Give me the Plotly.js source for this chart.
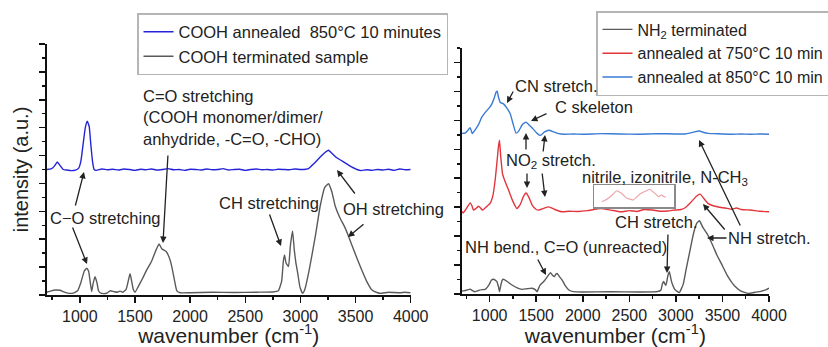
<!DOCTYPE html>
<html>
<head>
<meta charset="utf-8">
<script src="https://cdn.plot.ly/plotly-3.0.1.min.js"></script>
<style>html,body{margin:0;padding:0;background:#fff;}#chart{width:828px;height:347px;}</style>
</head>
<body>
<div id="chart"></div>
<script>
// ---------- DATA ----------
// Left panel: COOH terminated sample (gray)
const coohX = [700,740,780,821,860,900,941,980,1010,1040,1063,1080,1095,1108,1120,1138,1155,1170,1184,1220,1250,1275,1310,1340,1365,1390,1420,1445,1456,1470,1485,1501,1530,1570,1607,1650,1690,1719,1745,1783,1810,1834,1860,1880,1910,2000,2200,2400,2600,2750,2800,2830,2845,2856,2870,2892,2910,2929,2945,2959,2975,2995,3019,3040,3080,3135,3180,3220,3255,3285,3316,3360,3400,3437,3490,3543,3600,3649,3700,3725,3800,3900,3950,4000];
const coohY = [0.10,0.15,0.18,0.17,0.10,0.06,0.07,0.15,0.45,0.85,0.96,0.85,0.45,0.12,0.40,0.66,0.45,0.15,0.08,0.05,0.08,0.15,0.12,0.10,0.14,0.10,0.20,0.60,0.76,0.50,0.20,0.10,0.30,0.60,0.90,1.20,1.60,1.83,1.65,1.56,1.35,1.02,0.50,0.15,0.08,0.08,0.10,0.09,0.10,0.11,0.15,0.50,1.20,1.44,1.15,1.02,1.80,2.30,1.60,1.16,0.80,0.30,0.06,0.20,0.90,2.10,3.20,3.85,3.99,3.70,3.18,2.75,2.45,2.10,1.55,1.02,0.50,0.18,0.08,0.06,0.10,0.08,0.10,0.08];

// Left panel: COOH annealed 850 °C 10 minutes (blue)
const cooh850X = [700,740,770,796,820,850,880,927,960,990,1010,1030,1050,1068,1085,1100,1115,1130,1150,1200,1250,1300,1350,1400,1450,1500,1550,1600,1650,1700,1750,1800,1850,1900,1950,2000,2050,2100,2150,2200,2250,2300,2350,2400,2450,2500,2550,2600,2650,2700,2750,2800,2850,2900,2950,3000,3050,3074,3120,3180,3220,3255,3280,3320,3380,3440,3513,3550,3600,3650,3700,3750,3800,3850,3900,3950,4000];
const cooh850Y = [4.50,4.52,4.62,4.77,4.65,4.50,4.48,4.46,4.48,4.55,4.80,5.40,6.00,6.23,6.05,5.40,4.80,4.50,4.47,4.52,4.49,4.51,4.48,4.52,4.50,4.47,4.51,4.49,4.52,4.48,4.50,4.53,4.49,4.50,4.47,4.51,4.50,4.48,4.52,4.49,4.50,4.53,4.48,4.50,4.51,4.47,4.50,4.52,4.49,4.50,4.48,4.51,4.50,4.49,4.52,4.50,4.51,4.53,4.70,4.95,5.10,5.19,5.10,4.95,4.80,4.65,4.50,4.46,4.49,4.47,4.50,4.48,4.51,4.47,4.52,4.49,4.50];

// Right panel: NH2 terminated (gray)
const nh2X = [700,717,750,790,815,844,880,920,951,990,1020,1041,1060,1078,1095,1106,1120,1135,1149,1180,1210,1240,1290,1347,1400,1455,1490,1509,1540,1581,1620,1653,1675,1696,1710,1725,1750,1779,1810,1851,1900,2000,2300,2600,2800,2840,2855,2869,2885,2894,2915,2930,2945,2959,2990,3037,3080,3110,3145,3190,3225,3253,3290,3344,3400,3440,3487,3550,3600,3631,3700,3775,3850,3920,3970,4000];
const nh2Y = [0.10,0.11,0.13,0.17,0.12,0.08,0.12,0.15,0.16,0.30,0.48,0.51,0.48,0.43,0.25,0.08,0.30,0.48,0.51,0.45,0.38,0.31,0.22,0.16,0.18,0.20,0.15,0.08,0.30,0.43,0.60,0.74,0.65,0.60,0.68,0.71,0.60,0.48,0.30,0.14,0.08,0.07,0.08,0.07,0.08,0.14,0.35,0.43,0.33,0.31,0.65,0.77,0.55,0.37,0.15,0.05,0.35,0.85,1.40,2.10,2.45,2.53,2.30,2.03,1.65,1.35,1.06,0.65,0.40,0.28,0.10,0.02,0.06,0.10,0.15,0.20];

// Right panel: annealed at 750 °C 10 min (red)
const nh750X = [700,717,750,790,810,826,850,879,900,923,960,1005,1035,1059,1080,1095,1106,1118,1138,1170,1203,1250,1293,1330,1360,1391,1420,1460,1500,1527,1580,1635,1700,1779,1850,1950,2050,2192,2300,2408,2500,2580,2660,2750,2830,2912,2990,3056,3100,3164,3220,3261,3300,3344,3400,3487,3550,3600,3650,3703,3800,3900,4000];
const nh750Y = [2.85,2.80,2.95,3.15,3.05,2.90,2.95,3.03,2.98,2.90,3.00,3.13,3.40,3.93,4.60,5.10,5.31,4.80,4.16,3.85,3.59,3.20,2.95,3.10,3.35,3.49,3.35,3.05,2.92,2.90,2.96,3.01,2.92,2.84,2.86,2.85,2.88,2.95,2.90,2.84,2.88,2.85,2.92,2.90,2.86,2.87,2.90,2.92,2.98,3.18,3.38,3.45,3.30,3.13,3.05,2.99,2.96,2.93,2.97,2.92,2.90,2.86,2.84];

// Right panel: annealed at 850 °C 10 min (blue)
const nh850X = [700,736,765,790,805,814,850,880,916,960,1000,1024,1050,1070,1081,1095,1115,1149,1180,1221,1250,1283,1310,1350,1391,1430,1473,1510,1545,1590,1635,1690,1743,1800,1900,2000,2200,2400,2600,2800,3000,3100,3150,3200,3253,3300,3350,3400,3500,3600,3700,3800,3900,4000];
const nh850Y = [5.55,5.56,5.65,5.75,5.62,5.54,5.70,5.85,6.11,6.30,6.45,6.57,6.78,6.98,7.01,6.80,6.62,6.57,6.45,6.23,5.90,5.56,5.62,5.85,5.94,5.82,5.68,5.55,5.48,5.60,5.66,5.60,5.54,5.52,5.53,5.52,5.54,5.53,5.52,5.54,5.53,5.53,5.56,5.60,5.63,5.58,5.55,5.54,5.53,5.52,5.53,5.52,5.53,5.52];

// Inset (magnified red trace, nitrile / izonitrile / N-CH3 region)
const insetX = [2187,2230,2261,2310,2355,2385,2411,2440,2468,2505,2542,2580,2617,2670,2730,2760,2786,2824,2861,2885,2910];
const insetY = [5.3,7.0,8.7,12.5,16.3,15.0,13.7,11.0,8.7,7.8,7.0,10.0,13.0,15.5,17.7,15.5,13.7,10.3,12.0,10.5,9.7];

const xTickVals = [1000,1500,2000,2500,3000,3500,4000];
const seriesNames = {
  cooh850: 'COOH annealed&nbsp; 850°C 10 minutes',
  cooh: 'COOH terminated sample',
  nh2: 'NH<sub>2</sub> terminated',
  nh750: 'annealed at 750°C 10 min',
  nh850: 'annealed at 850°C 10 min'
};

// ---------- STYLE ----------
const W = 828, H = 347;
const FONT = 'Liberation Sans, Arial, sans-serif';
const TXT = '#222';
const line = (c, w) => ({color: c, width: w || 1.4, shape: 'spline', smoothing: 0.4});

const traces = [
  {x: cooh850X, y: cooh850Y, name: seriesNames.cooh850, xaxis: 'x', yaxis: 'y', legend: 'legend', mode: 'lines', line: line('#2424d8', 1.4)},
  {x: coohX, y: coohY, name: seriesNames.cooh, xaxis: 'x', yaxis: 'y', legend: 'legend', mode: 'lines', line: line('#5a5a5a', 1.4)},
  {x: nh2X, y: nh2Y, name: seriesNames.nh2, xaxis: 'x2', yaxis: 'y2', legend: 'legend2', mode: 'lines', line: line('#5a5a5a', 1.4)},
  {x: nh750X, y: nh750Y, name: seriesNames.nh750, xaxis: 'x2', yaxis: 'y2', legend: 'legend2', mode: 'lines', line: line('#e2353c', 1.4)},
  {x: nh850X, y: nh850Y, name: seriesNames.nh850, xaxis: 'x2', yaxis: 'y2', legend: 'legend2', mode: 'lines', line: line('#3a7bd5', 1.4)},
  {x: insetX, y: insetY, name: 'inset', xaxis: 'x3', yaxis: 'y3', showlegend: false, mode: 'lines', line: line('rgba(226,110,120,0.65)', 1.1)}
];

const axBase = {
  showline: true, linecolor: '#111', linewidth: 1.5, ticks: 'outside', ticklen: 6, tickwidth: 1.5,
  tickcolor: '#111', showgrid: false, zeroline: false, mirror: false, fixedrange: true
};
const xAx = (dom, anchor) => Object.assign({}, axBase, {
  domain: dom, anchor: anchor, range: [700, 4000], tickvals: xTickVals,
  tickfont: {size: 16, color: TXT},
  minor: {dtick: 250, tick0: 0, ticklen: 3, tickwidth: 1.5, tickcolor: '#111', showgrid: false},
  title: {text: 'wavenumber (cm<sup>-1</sup>)', font: {size: 21, color: TXT}, standoff: 13}
});
const yAx = (dom, anchor, top) => Object.assign({}, axBase, {
  domain: dom, anchor: anchor, range: [0, top], dtick: 1, tick0: 0, showticklabels: false,
  minor: {dtick: 0.5, tick0: 0, ticklen: 3, tickwidth: 1.5, tickcolor: '#111', showgrid: false}
});

const P = (px, py) => ({x: px / W, y: 1 - py / H});
function arrow(x1, y1, x2, y2) {
  const h = P(x2, y2);
  return {xref: 'paper', yref: 'paper', x: h.x, y: h.y, ax: x1 - x2, ay: y1 - y2, axref: 'pixel', ayref: 'pixel',
    text: '', showarrow: true, arrowhead: 2, arrowsize: 1, arrowwidth: 1.3, arrowcolor: '#222', standoff: 0, startstandoff: 0};
}
function label(text, px, py, align) {
  const p = P(px, py);
  return {xref: 'paper', yref: 'paper', x: p.x, y: p.y, xanchor: 'left', yanchor: 'middle', align: align || 'left',
    text: text, showarrow: false, font: {size: 16.5, color: TXT}};
}

const annotations = [
  // left panel
  label('C=O stretching<br>(COOH monomer/dimer/<br>anhydride, -C=O, -CHO)', 141, 118),
  label('C\u2212O stretching', 48, 218),
  label('CH stretching', 217, 203),
  label('OH stretching', 341, 209),
  arrow(168, 154, 163, 243),
  arrow(75, 207, 84, 172),
  arrow(72, 226, 87, 264),
  arrow(269, 213, 281, 246),
  arrow(356, 195, 337, 170),
  arrow(365, 223, 348, 237),
  // right panel
  label('CN stretch.', 513, 86),
  label('C skeleton', 553, 107),
  label('NO<sub>2</sub> stretch.', 504, 161),
  label('nitrile, izonitrile, N-CH<sub>3</sub>', 580, 178),
  label('CH stretch.', 613, 222),
  label('NH bend., C=O (unreacted)', 463, 247),
  label('NH stretch.', 726, 238),
  arrow(514, 90, 507, 103),
  arrow(548, 113, 531, 121),
  arrow(526, 151, 526, 133),
  arrow(543, 153, 545, 135),
  arrow(527, 172, 527, 188),
  arrow(542, 172, 545, 197),
  arrow(668, 233, 667, 273),
  arrow(537, 258, 546, 275),
  arrow(728, 238, 707, 238),
  arrow(726, 231, 703, 204),
  arrow(741, 227, 699, 140)
];

const legendBase = {
  xanchor: 'left', yanchor: 'top', bgcolor: 'rgba(255,255,255,0)', bordercolor: '#b5b5b5', borderwidth: 1.5,
  font: {size: 16.5, color: TXT, family: FONT}, tracegroupgap: 0, traceorder: 'normal'
};

const layout = {
  width: W, height: H,
  margin: {l: 0, r: 0, t: 0, b: 0, autoexpand: false},
  paper_bgcolor: '#fff', plot_bgcolor: 'rgba(0,0,0,0)',
  font: {family: FONT, size: 16, color: TXT},
  showlegend: true,
  xaxis: xAx([46.7 / W, 410.7 / W], 'y'),
  yaxis: Object.assign(yAx([52 / H, 303 / H], 'x', 9), {
    title: {text: 'intensity (a.u.)', font: {size: 20, color: TXT}, standoff: 5}
  }),
  xaxis2: xAx([461.7 / W, 769 / W], 'y2'),
  yaxis2: yAx([53 / H, 299 / H], 'x2', 8.5),
  xaxis3: {domain: [594 / W, 674 / W], anchor: 'y3', range: [2100, 3000], showline: true, mirror: true,
    linecolor: '#8a8a8a', linewidth: 1.5, ticks: '', showticklabels: false, showgrid: false, zeroline: false, fixedrange: true},
  yaxis3: {domain: [140 / H, 162 / H], anchor: 'x3', range: [0, 22], showline: true, mirror: true,
    linecolor: '#8a8a8a', linewidth: 1.5, ticks: '', showticklabels: false, showgrid: false, zeroline: false, fixedrange: true},
  legend: Object.assign({}, legendBase, {x: 137 / W, y: 1 - 13 / H}),
  legend2: Object.assign({}, legendBase, {x: 596 / W, y: 1 - 11 / H, font: {size: 16, color: TXT, family: FONT}}),
  annotations: annotations,
  hovermode: false
};

Plotly.newPlot('chart', traces, layout, {staticPlot: true, displayModeBar: false});
</script>
</body>
</html>
